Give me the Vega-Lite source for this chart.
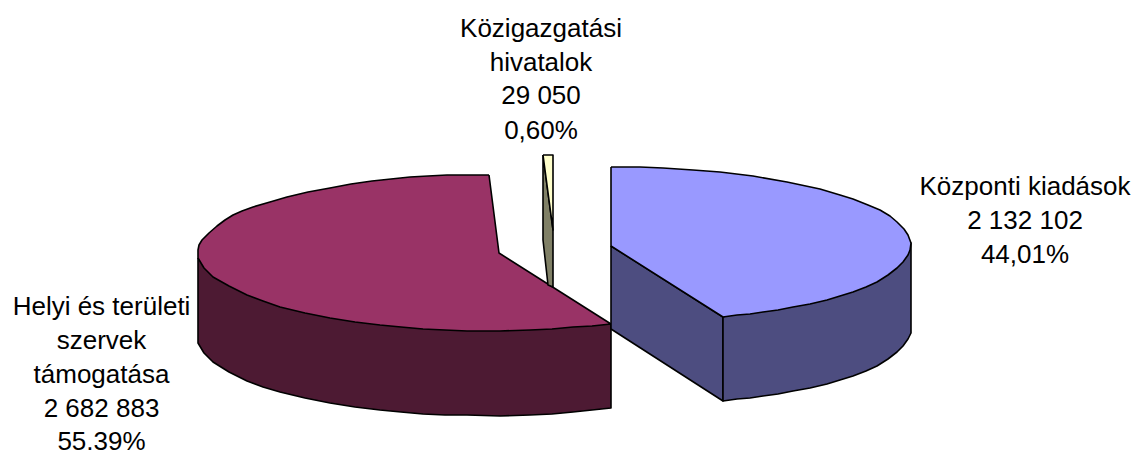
{"$schema":"https://vega.github.io/schema/vega-lite/v6.json","width":1135,"height":450,"padding":0,"autosize":{"type":"none"},"background":"white","view":{"stroke":null},
"datasets":{"faces":[
{"face":"a_maroon_wall","x":198,"y":258},{"face":"a_maroon_wall","x":198,"y":343},{"face":"a_maroon_wall","x":204,"y":353},{"face":"a_maroon_wall","x":213,"y":362},{"face":"a_maroon_wall","x":229,"y":372},{"face":"a_maroon_wall","x":247,"y":381},{"face":"a_maroon_wall","x":263,"y":387},{"face":"a_maroon_wall","x":280,"y":392},{"face":"a_maroon_wall","x":305,"y":398},{"face":"a_maroon_wall","x":330,"y":403},{"face":"a_maroon_wall","x":355,"y":407},{"face":"a_maroon_wall","x":380,"y":410},{"face":"a_maroon_wall","x":401,"y":412},{"face":"a_maroon_wall","x":423,"y":414},{"face":"a_maroon_wall","x":445,"y":415},{"face":"a_maroon_wall","x":467,"y":415},{"face":"a_maroon_wall","x":500,"y":416},{"face":"a_maroon_wall","x":530,"y":415},{"face":"a_maroon_wall","x":552,"y":414},{"face":"a_maroon_wall","x":573,"y":412},{"face":"a_maroon_wall","x":592,"y":410},{"face":"a_maroon_wall","x":611,"y":408},{"face":"a_maroon_wall","x":611,"y":324},{"face":"a_maroon_wall","x":198,"y":258},
{"face":"b_maroon_top","x":489,"y":175},{"face":"b_maroon_top","x":468,"y":175},{"face":"b_maroon_top","x":447,"y":175},{"face":"b_maroon_top","x":428,"y":176},{"face":"b_maroon_top","x":410,"y":177},{"face":"b_maroon_top","x":391,"y":179},{"face":"b_maroon_top","x":372,"y":181},{"face":"b_maroon_top","x":351,"y":184},{"face":"b_maroon_top","x":330,"y":188},{"face":"b_maroon_top","x":308,"y":192},{"face":"b_maroon_top","x":287,"y":197},{"face":"b_maroon_top","x":270,"y":202},{"face":"b_maroon_top","x":253,"y":207},{"face":"b_maroon_top","x":242,"y":211},{"face":"b_maroon_top","x":233,"y":215},{"face":"b_maroon_top","x":225,"y":220},{"face":"b_maroon_top","x":217,"y":226},{"face":"b_maroon_top","x":209,"y":233},{"face":"b_maroon_top","x":202,"y":240},{"face":"b_maroon_top","x":199,"y":245},{"face":"b_maroon_top","x":198,"y":250},{"face":"b_maroon_top","x":198,"y":258},{"face":"b_maroon_top","x":204,"y":268},{"face":"b_maroon_top","x":213,"y":277},{"face":"b_maroon_top","x":229,"y":286},{"face":"b_maroon_top","x":247,"y":295},{"face":"b_maroon_top","x":263,"y":301},{"face":"b_maroon_top","x":280,"y":307},{"face":"b_maroon_top","x":305,"y":313},{"face":"b_maroon_top","x":330,"y":318},{"face":"b_maroon_top","x":355,"y":322},{"face":"b_maroon_top","x":380,"y":325},{"face":"b_maroon_top","x":401,"y":327},{"face":"b_maroon_top","x":423,"y":329},{"face":"b_maroon_top","x":445,"y":330},{"face":"b_maroon_top","x":467,"y":331},{"face":"b_maroon_top","x":500,"y":331},{"face":"b_maroon_top","x":530,"y":330},{"face":"b_maroon_top","x":552,"y":329},{"face":"b_maroon_top","x":573,"y":327},{"face":"b_maroon_top","x":592,"y":326},{"face":"b_maroon_top","x":611,"y":324},{"face":"b_maroon_top","x":499,"y":253},{"face":"b_maroon_top","x":489,"y":175},
{"face":"c_sliver_side","x":543,"y":155},{"face":"c_sliver_side","x":553,"y":230},{"face":"c_sliver_side","x":553,"y":287},{"face":"c_sliver_side","x":548,"y":285},{"face":"c_sliver_side","x":543,"y":240},{"face":"c_sliver_side","x":543,"y":155},
{"face":"d_sliver_top","x":543,"y":155},{"face":"d_sliver_top","x":553,"y":155},{"face":"d_sliver_top","x":553,"y":230},{"face":"d_sliver_top","x":543,"y":155},
{"face":"e_blue_cut","x":611,"y":246},{"face":"e_blue_cut","x":723,"y":317},{"face":"e_blue_cut","x":723,"y":401},{"face":"e_blue_cut","x":611,"y":329},{"face":"e_blue_cut","x":611,"y":246},
{"face":"f_blue_wall","x":723,"y":317},{"face":"f_blue_wall","x":911,"y":243},{"face":"f_blue_wall","x":911,"y":333},{"face":"f_blue_wall","x":908,"y":339},{"face":"f_blue_wall","x":903,"y":346},{"face":"f_blue_wall","x":897,"y":352},{"face":"f_blue_wall","x":888,"y":359},{"face":"f_blue_wall","x":877,"y":366},{"face":"f_blue_wall","x":866,"y":371},{"face":"f_blue_wall","x":853,"y":376},{"face":"f_blue_wall","x":840,"y":380},{"face":"f_blue_wall","x":827,"y":384},{"face":"f_blue_wall","x":810,"y":388},{"face":"f_blue_wall","x":793,"y":391},{"face":"f_blue_wall","x":778,"y":394},{"face":"f_blue_wall","x":763,"y":396},{"face":"f_blue_wall","x":750,"y":398},{"face":"f_blue_wall","x":737,"y":399},{"face":"f_blue_wall","x":723,"y":401},{"face":"f_blue_wall","x":723,"y":317},
{"face":"g_blue_top","x":611,"y":167},{"face":"g_blue_top","x":640,"y":167},{"face":"g_blue_top","x":663,"y":168},{"face":"g_blue_top","x":693,"y":170},{"face":"g_blue_top","x":720,"y":172},{"face":"g_blue_top","x":753,"y":176},{"face":"g_blue_top","x":787,"y":182},{"face":"g_blue_top","x":820,"y":189},{"face":"g_blue_top","x":840,"y":195},{"face":"g_blue_top","x":853,"y":199},{"face":"g_blue_top","x":868,"y":205},{"face":"g_blue_top","x":880,"y":210},{"face":"g_blue_top","x":890,"y":216},{"face":"g_blue_top","x":897,"y":222},{"face":"g_blue_top","x":904,"y":229},{"face":"g_blue_top","x":908,"y":235},{"face":"g_blue_top","x":911,"y":243},{"face":"g_blue_top","x":910,"y":250},{"face":"g_blue_top","x":908,"y":255},{"face":"g_blue_top","x":903,"y":262},{"face":"g_blue_top","x":897,"y":268},{"face":"g_blue_top","x":888,"y":275},{"face":"g_blue_top","x":877,"y":282},{"face":"g_blue_top","x":866,"y":287},{"face":"g_blue_top","x":853,"y":292},{"face":"g_blue_top","x":840,"y":296},{"face":"g_blue_top","x":827,"y":300},{"face":"g_blue_top","x":810,"y":304},{"face":"g_blue_top","x":793,"y":307},{"face":"g_blue_top","x":778,"y":310},{"face":"g_blue_top","x":763,"y":312},{"face":"g_blue_top","x":750,"y":314},{"face":"g_blue_top","x":737,"y":315},{"face":"g_blue_top","x":723,"y":317},{"face":"g_blue_top","x":611,"y":246},{"face":"g_blue_top","x":611,"y":167}
],
"labels":[
{"x":541,"y":28.5,"t":"Közigazgatási"},{"x":541,"y":62.5,"t":"hivatalok"},{"x":541,"y":96,"t":"29 050"},{"x":541,"y":130.5,"t":"0,60%"},
{"x":1025,"y":187,"t":"Központi kiadások"},{"x":1025,"y":221,"t":"2 132 102"},{"x":1025,"y":254.5,"t":"44,01%"},
{"x":101.5,"y":307,"t":"Helyi és területi"},{"x":101.5,"y":340.5,"t":"szervek"},{"x":101.5,"y":374.5,"t":"támogatása"},{"x":101.5,"y":408.5,"t":"2 682 883"},{"x":101.5,"y":442,"t":"55,39%"}
]},
"layer":[
{"data":{"name":"faces"},"transform":[{"window":[{"op":"row_number","as":"i"}]}],"mark":{"type":"line","stroke":"black","strokeWidth":1.6,"strokeJoin":"round","clip":false},
"encoding":{"x":{"field":"x","type":"quantitative","scale":{"domain":[0,1135]},"axis":null},"y":{"field":"y","type":"quantitative","scale":{"domain":[450,0]},"axis":null},"detail":{"field":"face"},"order":{"field":"i","type":"quantitative"},
"fill":{"field":"face","type":"nominal","legend":null,"scale":{"domain":["a_maroon_wall","b_maroon_top","c_sliver_side","d_sliver_top","e_blue_cut","f_blue_wall","g_blue_top"],"range":["#4D1A33","#993366","#808066","#FFFFCC","#4D4D80","#4D4D80","#9999FF"]}}}},
{"data":{"name":"labels"},"mark":{"type":"text","font":"Liberation Sans","fontSize":26,"align":"center","baseline":"middle","color":"black"},
"encoding":{"x":{"field":"x","type":"quantitative","scale":{"domain":[0,1135]},"axis":null},"y":{"field":"y","type":"quantitative","scale":{"domain":[450,0]},"axis":null},"text":{"field":"t"}}}
]}
